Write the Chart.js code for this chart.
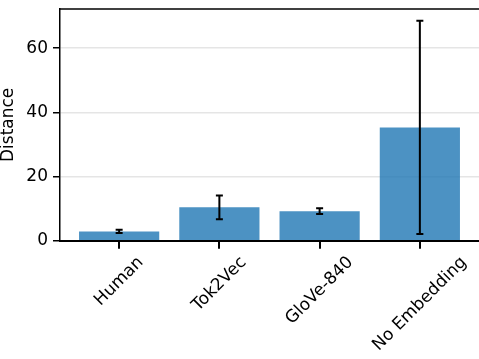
<!DOCTYPE html>
<html>
<head>
<meta charset="utf-8">
<script src="https://cdn.jsdelivr.net/npm/chart.js@4"></script>
<style>
  body { margin: 0; background: #fff; }
</style>
</head>
<body>
<canvas id="distChart" width="479" height="359"></canvas>
<script>
const categories = ['Human', 'Tok2Vec', 'GloVe-840', 'No Embedding'];
const meanDistance = [2.9, 10.4, 9.2, 35.3];
const errDistance = [0.5, 3.7, 0.9, 33.2];
const yTicks = [0, 20, 40, 60];

Chart.defaults.font.family = 'DejaVu Sans';
Chart.defaults.font.size = 17;
Chart.defaults.color = '#000';

// error bars on top of the bars
const errorBars = {
  id: 'errorBars',
  afterDatasetsDraw(chart) {
    const ctx = chart.ctx;
    const xs = chart.scales.x, ys = chart.scales.y;
    ctx.save();
    ctx.strokeStyle = '#000';
    ctx.lineWidth = 2;
    meanDistance.forEach((m, i) => {
      const x = xs.getPixelForValue(i);
      const top = ys.getPixelForValue(m + errDistance[i]);
      const bot = ys.getPixelForValue(m - errDistance[i]);
      ctx.beginPath();
      ctx.moveTo(x, top); ctx.lineTo(x, bot);
      ctx.moveTo(x - 3.5, top); ctx.lineTo(x + 3.5, top);
      ctx.moveTo(x - 3.5, bot); ctx.lineTo(x + 3.5, bot);
      ctx.stroke();
    });
    ctx.restore();
  }
};

// top spine, x tick marks and rotated, centred category labels
const frameAndLabels = {
  id: 'frameAndLabels',
  afterDraw(chart) {
    const ctx = chart.ctx;
    const area = chart.chartArea;
    const xs = chart.scales.x;
    ctx.save();
    ctx.strokeStyle = '#000';
    ctx.lineWidth = 1.5;
    ctx.beginPath();
    ctx.moveTo(area.left, area.top);
    ctx.lineTo(area.right, area.top);
    ctx.stroke();

    ctx.lineWidth = 2;
    categories.forEach((c, i) => {
      const x = Math.round(xs.getPixelForValue(i));
      ctx.beginPath();
      ctx.moveTo(x, area.bottom);
      ctx.lineTo(x, area.bottom + 8);
      ctx.stroke();
    });

    ctx.font = '17px "DejaVu Sans"';
    ctx.fillStyle = '#000';
    ctx.textAlign = 'center';
    ctx.textBaseline = 'middle';
    const h = 20;
    const boxTop = area.bottom + 12;
    categories.forEach((c, i) => {
      const w = ctx.measureText(c).width;
      const side = (w + h) * Math.SQRT1_2;
      const x = xs.getPixelForValue(i);
      ctx.save();
      ctx.translate(x, boxTop + side / 2);
      ctx.rotate(-Math.PI / 4);
      ctx.fillText(c, 0, 0);
      ctx.restore();
    });
    ctx.restore();
  }
};

const config = {
  type: 'bar',
  data: {
    datasets: [{
      label: 'Distance',
      data: categories.map((c, i) => ({ x: i, y: meanDistance[i] })),
      backgroundColor: 'rgba(31, 119, 180, 0.8)',
      borderWidth: 0,
      barPercentage: 1,
      categoryPercentage: 0.8,
    }]
  },
  options: {
    responsive: false,
    animation: false,
    layout: { padding: { top: 9, right: 0, left: 0, bottom: 0 } },
    plugins: {
      legend: { display: false },
      tooltip: { enabled: false }
    },
    scales: {
      x: {
        type: 'linear',
        offset: false,
        min: -0.59,
        max: 3.59,
        afterBuildTicks: s => { s.ticks = categories.map((c, i) => ({ value: i })); },
        afterFit: s => { s.height = 118.3; s.paddingLeft = 0; s.paddingRight = 0; },
        ticks: { display: false },
        grid: { display: false },
        border: { display: true, color: '#000', width: 2 }
      },
      y: {
        min: 0,
        max: 72.2,
        afterBuildTicks: s => { s.ticks = yTicks.map(v => ({ value: v })); },
        afterFit: s => { s.width = 60; s.paddingTop = 0; s.paddingBottom = 0; },
        ticks: { padding: 5 },
        grid: { color: '#e5e5e5', lineWidth: 1.5, tickLength: 7, tickColor: '#000', tickWidth: 1.5 },
        border: { color: '#000', width: 1.5 },
        title: {
          display: true,
          text: 'Distance',
          font: { size: 17, lineHeight: 1 },
          padding: 0
        }
      }
    }
  },
  plugins: [errorBars, frameAndLabels]
};

new Chart(document.getElementById('distChart').getContext('2d'), config);
</script>
</body>
</html>
